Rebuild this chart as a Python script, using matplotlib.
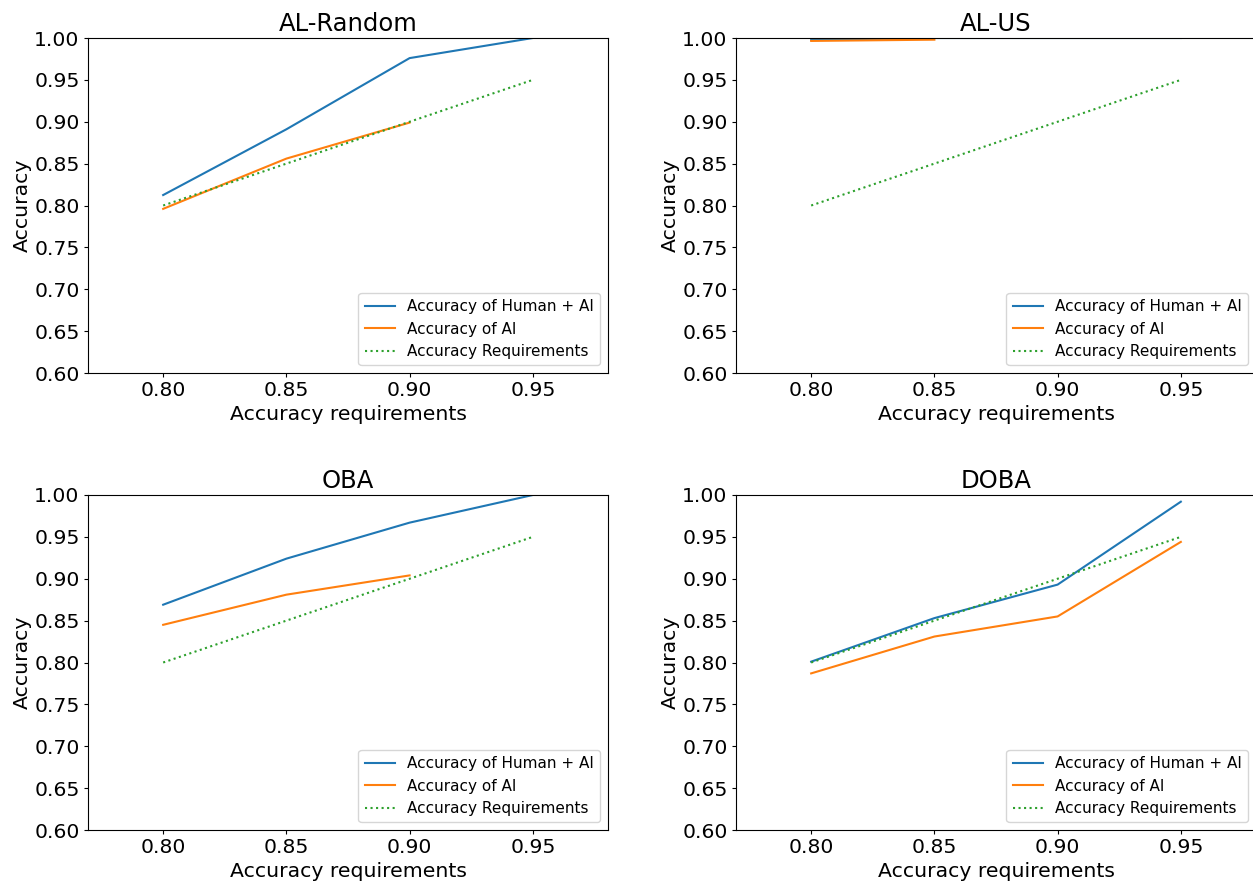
import matplotlib
matplotlib.use("Agg")
import matplotlib.pyplot as plt

requirements = [0.80, 0.85, 0.90, 0.95]

titles = ["AL-Random", "AL-US", "OBA", "DOBA"]

human_ai_random = [0.8125, 0.891, 0.976, 1.000]
ai_random = [0.796, 0.856, 0.899]

human_ai_us = [0.998, 1.000, 1.000, 1.000]
ai_us = [0.9965, 0.998]

human_ai_oba = [0.869, 0.924, 0.967, 1.000]
ai_oba = [0.845, 0.881, 0.904]

human_ai_doba = [0.801, 0.853, 0.893, 0.992]
ai_doba = [0.787, 0.831, 0.855, 0.944]

yticks = [0.60, 0.65, 0.70, 0.75, 0.80, 0.85, 0.90, 0.95, 1.00]
xticks = [0.80, 0.85, 0.90, 0.95]

human_series = [human_ai_random, human_ai_us, human_ai_oba, human_ai_doba]
ai_series = [ai_random, ai_us, ai_oba, ai_doba]

W, H = 1253, 884
fig = plt.figure(figsize=(W / 100, H / 100), dpi=100)

ax_w = 520 / W
ax_h = 335 / H
lefts = [88 / W, 736 / W]
bottoms = [(H - 373) / H, (H - 830) / H]

for i in range(4):
    r, c = divmod(i, 2)
    ax = fig.add_axes([lefts[c], bottoms[r], ax_w, ax_h])
    hs = human_series[i]
    ais = ai_series[i]
    ax.plot(requirements[:len(hs)], hs, color="tab:blue", lw=1.5,
            label="Accuracy of Human + AI")
    ax.plot(requirements[:len(ais)], ais, color="tab:orange", lw=1.5,
            label="Accuracy of AI")
    ax.plot(requirements, requirements, color="tab:green", lw=1.5,
            linestyle=":", label="Accuracy Requirements")
    ax.set_xlim(0.7695, 0.9805)
    ax.set_ylim(0.60, 1.00)
    ax.set_xticks(xticks)
    ax.set_xticklabels([f"{v:.2f}" for v in xticks])
    ax.set_yticks(yticks)
    ax.set_yticklabels([f"{v:.2f}" for v in yticks])
    ax.tick_params(labelsize=14.7, length=3, pad=3)
    ax.set_title(titles[i], fontsize=17.5, pad=5)
    ax.set_xlabel("Accuracy requirements", fontsize=14.7, labelpad=3.5)
    ax.set_ylabel("Accuracy", fontsize=14.7, labelpad=2)
    ax.legend(loc="lower right", fontsize=11)

fig.savefig("out.png", dpi=100)
